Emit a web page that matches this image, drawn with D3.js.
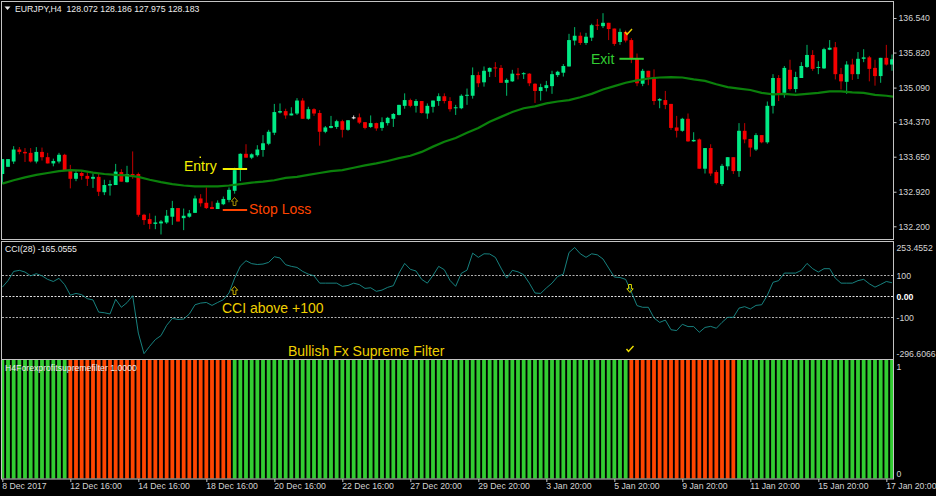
<!DOCTYPE html>
<html>
<head>
<meta charset="utf-8">
<script src="https://cdnjs.cloudflare.com/ajax/libs/d3/7.8.5/d3.min.js"></script>
<style>
html, body { margin: 0; padding: 0; background: #000; overflow: hidden; }
text { font-family: "Liberation Sans", Arial, sans-serif; }
.small { font-size: 8.7px; fill: #d4d4d4; }
.note { font-size: 14px; }
</style>
</head>
<body>
<svg id="chart" width="936" height="496"></svg>
<script>
// EURJPY H4, one entry per candle
const opens = [133.29,133.44,133.55,133.80,133.75,133.73,133.55,133.75,133.64,133.51,133.55,133.69,133.37,133.19,133.31,133.25,133.19,133.23,132.91,133.05,133.06,133.33,133.12,133.29,133.29,132.44,132.35,132.25,132.26,132.28,132.40,132.58,132.37,132.40,132.48,132.78,132.69,132.60,132.56,132.66,132.75,132.94,133.39,133.71,133.63,133.68,133.79,133.92,134.15,134.57,134.60,134.51,134.55,134.82,134.44,134.64,134.56,134.17,134.25,134.27,134.39,134.21,134.47,134.47,134.37,134.27,134.35,134.25,134.35,134.44,134.52,134.71,134.83,134.71,134.81,134.55,134.69,134.81,134.91,134.81,134.66,134.66,134.92,134.92,135.35,135.20,135.42,135.51,135.50,135.19,135.22,135.38,135.37,135.38,135.17,135.02,135.08,135.12,135.35,135.40,135.53,136.07,136.17,136.02,136.13,136.40,136.37,136.44,136.32,136.04,136.25,136.08,135.69,135.17,135.44,135.30,134.82,134.83,134.75,134.26,134.19,134.44,133.97,134.01,133.40,133.83,133.33,133.08,133.45,133.64,133.35,134.19,134.02,133.80,134.10,133.95,134.71,135.29,134.98,135.46,135.06,135.29,135.52,135.77,135.51,135.49,135.88,135.93,135.37,135.21,135.57,135.37,135.69,135.72,135.50,135.33,135.71,135.57];
const highs = [133.60,133.60,133.87,133.85,133.83,133.83,133.85,133.84,133.73,133.61,133.73,133.71,133.48,133.37,133.37,133.35,133.30,133.29,133.17,133.16,133.50,133.39,133.46,133.76,133.32,132.46,132.47,132.42,132.33,132.54,132.73,132.58,132.57,132.54,132.84,132.87,133.01,132.72,132.74,132.82,133.01,133.42,133.72,133.91,133.72,133.89,134.10,134.21,134.75,134.76,134.65,134.68,134.87,134.87,134.69,134.66,134.62,134.29,134.50,134.42,134.42,134.41,134.51,134.55,134.37,134.51,134.36,134.47,134.48,134.56,134.73,134.97,134.86,134.85,134.81,134.76,134.82,134.97,134.97,134.89,134.73,134.95,135.07,135.51,135.42,135.53,135.51,135.62,135.56,135.28,135.46,135.50,135.41,135.39,135.18,135.17,135.23,135.44,135.44,135.58,136.21,136.35,136.24,136.23,136.42,136.52,136.64,136.44,136.32,136.32,136.28,136.12,135.80,135.48,135.44,135.47,134.87,135.02,134.75,134.50,134.46,134.55,134.16,134.03,133.83,133.91,133.37,133.50,133.64,133.64,134.35,134.35,134.02,134.14,134.10,134.80,135.37,135.35,135.54,135.67,135.42,135.62,135.98,135.87,135.64,135.92,136.08,136.04,135.50,135.64,135.69,135.83,135.89,135.75,135.67,135.71,135.98,135.78];
const lows = [133.08,133.44,133.50,133.70,133.54,133.53,133.51,133.57,133.51,133.45,133.51,133.37,132.99,133.14,133.17,133.04,133.00,132.83,132.85,132.84,133.06,133.13,133.11,133.19,132.40,132.23,132.14,132.14,132.03,132.25,132.23,132.30,132.12,132.38,132.48,132.61,132.56,132.56,132.56,132.64,132.70,132.88,133.14,133.63,133.60,133.65,133.65,133.89,134.10,134.55,134.44,134.51,134.52,134.44,134.42,134.50,133.88,134.14,134.24,134.23,134.05,134.19,134.43,134.33,134.22,134.25,134.19,134.19,134.30,134.27,134.51,134.65,134.68,134.57,134.55,134.44,134.57,134.71,134.76,134.59,134.52,134.64,134.73,134.86,135.10,135.11,135.31,135.31,135.19,134.92,135.21,135.26,135.27,135.12,134.77,134.82,135.01,134.96,135.31,135.32,135.53,135.97,135.98,135.98,136.06,136.29,136.33,136.08,135.96,135.98,136.03,135.60,135.12,135.12,135.14,134.73,134.66,134.64,134.21,134.05,134.17,133.96,133.96,133.40,133.30,133.25,133.07,133.04,133.37,133.29,133.23,133.93,133.65,133.77,133.93,133.92,134.55,134.81,134.88,135.03,134.99,135.29,135.50,135.44,135.37,135.48,135.87,135.26,135.05,134.96,135.25,135.27,135.62,135.22,135.13,135.19,135.55,135.44];
const closes = [133.60,133.60,133.80,133.75,133.72,133.55,133.75,133.64,133.51,133.56,133.69,133.37,133.19,133.31,133.25,133.19,133.23,132.92,133.06,133.08,133.34,133.13,133.29,133.26,132.44,132.33,132.25,132.28,132.30,132.42,132.58,132.30,132.42,132.47,132.78,132.68,132.58,132.56,132.69,132.77,132.96,133.37,133.71,133.63,133.70,133.80,133.93,134.17,134.58,134.60,134.51,134.55,134.82,134.44,134.64,134.55,134.17,134.26,134.29,134.39,134.21,134.41,134.47,134.36,134.25,134.35,134.24,134.37,134.46,134.54,134.73,134.83,134.71,134.81,134.56,134.71,134.82,134.91,134.81,134.64,134.68,134.92,134.94,135.35,135.18,135.44,135.50,135.49,135.19,135.25,135.38,135.35,135.39,135.18,135.02,135.10,135.14,135.37,135.42,135.54,136.08,136.17,136.02,136.15,136.39,136.39,136.44,136.31,136.00,136.25,136.07,135.70,135.18,135.44,135.30,134.81,134.85,134.73,134.25,134.19,134.44,133.97,134.00,133.40,133.83,133.30,133.10,133.46,133.64,133.35,134.19,134.01,133.84,134.10,133.95,134.71,135.29,134.95,135.50,135.06,135.31,135.54,135.77,135.48,135.52,135.89,135.92,135.37,135.22,135.57,135.37,135.69,135.72,135.48,135.33,135.71,135.57,135.68];

// moving average, read at every second candle
const maValues = [133.09,133.16,133.22,133.27,133.31,133.35,133.37,133.36,133.32,133.29,133.27,133.26,133.23,133.17,133.12,133.08,133.05,133.03,133.03,133.03,133.05,133.08,133.11,133.13,133.16,133.21,133.23,133.27,133.31,133.35,133.37,133.42,133.47,133.51,133.56,133.62,133.67,133.75,133.86,133.96,134.04,134.15,134.25,134.38,134.48,134.58,134.66,134.70,134.76,134.80,134.83,134.89,134.96,135.05,135.12,135.19,135.24,135.28,135.30,135.31,135.30,135.26,135.23,135.16,135.10,135.07,135.04,134.98,134.95,134.96,134.94,134.96,134.98,135.01,135.01,134.99,134.98,134.94,134.92,134.89];

const cciValues = [44,75,119,124,116,98,108,98,81,71,86,56,6,14,8,-11,-17,-75,-78,-84,-14,-52,-30,3,-175,-273,-238,-206,-187,-138,-105,-110,-108,-84,-40,-32,-29,-43,-29,-16,16,87,144,170,156,152,154,162,189,183,151,143,138,119,106,98,63,63,63,63,48,52,63,56,38,41,24,30,43,51,111,157,129,121,81,63,100,143,127,76,48,110,125,206,186,203,202,186,135,87,124,117,103,63,16,14,40,63,95,106,209,233,203,186,203,198,178,135,92,90,81,21,-44,-52,-52,-103,-124,-113,-159,-163,-133,-144,-144,-171,-148,-143,-152,-124,-100,-100,-56,-49,-60,-43,-40,5,67,75,111,111,111,124,157,132,116,132,132,87,63,63,63,75,81,60,44,57,71,65];

// filter state runs: [first candle, last candle]
const filterRedRuns = [[12, 40], [111, 129]];

const priceTicks = [136.54, 135.82, 135.09, 134.37, 133.65, 132.92, 132.2];
const cciLevels = [100, 0, -100];
const cciRange = [253.4552, -296.6066];
const dateLabels = ['8 Dec 2017','12 Dec 16:00','14 Dec 16:00','18 Dec 16:00','20 Dec 16:00','22 Dec 16:00','27 Dec 20:00','29 Dec 20:00','3 Jan 20:00','5 Jan 20:00','9 Jan 20:00','11 Jan 20:00','15 Jan 20:00','17 Jan 20:00'];
const dateEvery = 12; // candles between date labels

const n = opens.length;
const svg = d3.select('#chart');
const plotRight = 893;

const x = d3.scaleLinear().domain([0, 157]).range([2.333, 2.333 + 157 * 5.6667]);
const y = d3.scaleLinear().domain([132.2, 136.54]).range([226.3, 18]);
const yCci = d3.scaleLinear().domain([cciRange[1], cciRange[0]]).range([358.6, 243.2]);
const yFilter = d3.scaleLinear().domain([0, 1]).range([478.5, 360]);

const defs = svg.append('defs');
defs.append('clipPath').attr('id', 'clipMain').append('rect').attr('x', 2).attr('y', 2).attr('width', plotRight - 2).attr('height', 237);
defs.append('clipPath').attr('id', 'clipCci').append('rect').attr('x', 2).attr('y', 242).attr('width', plotRight - 2).attr('height', 117);
defs.append('clipPath').attr('id', 'clipFilter').append('rect').attr('x', 2).attr('y', 360).attr('width', plotRight - 2).attr('height', 119);

// candles
const candles = svg.append('g').attr('clip-path', 'url(#clipMain)');
const candleColor = i => closes[i] === opens[i] ? '#ffffff' : (closes[i] > opens[i] ? '#00ea85' : '#f50000');
const idx = d3.range(n);
candles.selectAll('line.wick').data(idx).enter().append('line')
    .attr('x1', i => x(i)).attr('x2', i => x(i))
    .attr('y1', i => y(highs[i])).attr('y2', i => y(lows[i]))
    .attr('stroke', candleColor).attr('stroke-width', 0.8);
candles.selectAll('rect.body').data(idx).enter().append('rect')
    .attr('x', i => x(i) - 1.9).attr('width', 3.8)
    .attr('y', i => y(Math.max(opens[i], closes[i])))
    .attr('height', i => Math.max(1, Math.abs(y(opens[i]) - y(closes[i]))))
    .attr('fill', candleColor);

// moving average
const maLine = d3.line().x((d, i) => x(i * 2)).y(d => y(d));
candles.append('path').datum(maValues).attr('d', maLine)
    .attr('fill', 'none').attr('stroke', '#0b800b').attr('stroke-width', 2.2);

// CCI panel
const cciG = svg.append('g').attr('clip-path', 'url(#clipCci)');
cciG.selectAll('line.level').data(cciLevels).enter().append('line')
    .attr('x1', 2).attr('x2', plotRight)
    .attr('y1', d => Math.round(yCci(d)) + 0.5).attr('y2', d => Math.round(yCci(d)) + 0.5)
    .attr('stroke', d => d === 0 ? '#e0e0e0' : '#b0b0b0').attr('stroke-width', 1)
    .attr('stroke-dasharray', '2,1.5');
const cciLine = d3.line().x((d, i) => x(i)).y(d => yCci(d));
cciG.append('path').datum(cciValues).attr('d', cciLine)
    .attr('fill', 'none').attr('stroke', '#1a8f8c').attr('stroke-width', 0.9);

// filter histogram
const isRed = i => filterRedRuns.some(r => i >= r[0] && i <= r[1]);
svg.append('g').attr('clip-path', 'url(#clipFilter)')
    .selectAll('rect').data(idx).enter().append('rect')
    .attr('x', i => x(i) - 1.9).attr('width', 3.8)
    .attr('y', yFilter(1)).attr('height', yFilter(0) - yFilter(1))
    .attr('fill', i => isRed(i) ? '#ff4500' : '#32cd32');

// frames
const frame = '#c4c4c4';
[[1.5, 1.5, plotRight + 0.5, 239.5], [1.5, 241.5, plotRight + 0.5, 359.5], [1.5, 359.5, plotRight + 0.5, 479]].forEach(r => {
    svg.append('rect').attr('x', r[0]).attr('y', r[1]).attr('width', r[2] - r[0]).attr('height', r[3] - r[1])
        .attr('fill', 'none').attr('stroke', frame).attr('stroke-width', 1);
});

// axes
const priceAxis = d3.axisRight(y).tickValues(priceTicks).tickFormat(d3.format('.3f')).tickSize(3).tickPadding(2);
const gPrice = svg.append('g').attr('transform', `translate(${plotRight + 0.5},0)`).call(priceAxis);
const cciFmt = d => d === 0 ? '0.00' : String(d);
const gCci = svg.append('g').attr('transform', `translate(${plotRight + 0.5},0)`)
    .call(d3.axisRight(yCci).tickValues(cciLevels).tickFormat(cciFmt).tickSize(0).tickPadding(3));
const gDates = svg.append('g').attr('transform', 'translate(0,479)')
    .call(d3.axisBottom(x).tickValues(dateLabels.map((d, i) => i * dateEvery)).tickSize(3)
        .tickFormat((d, i) => dateLabels[i]).tickPadding(1));
[gPrice, gCci, gDates].forEach(g => {
    g.select('.domain').remove();
    g.selectAll('.tick line').attr('stroke', frame);
    g.selectAll('text').attr('class', 'small').attr('font-family', null).attr('font-size', null);
});
gDates.selectAll('text').attr('text-anchor', 'start').attr('dx', '-0.6').attr('dy', '0.7em');
gCci.selectAll('text').filter(d => d === 0).style('fill', '#fff').style('font-weight', 'bold');

// labels without tick marks on the scales
const sideLabels = [['253.4552', 248], ['-296.6066', 354], ['1', 367], ['0', 474]];
svg.selectAll('text.side').data(sideLabels).enter().append('text')
    .attr('class', 'small side').attr('x', 896.5).attr('y', d => d[1]).attr('dy', '0.35em').text(d => d[0]);

// panel headers
svg.append('path').attr('d', 'M4.5 6.5 H10.5 L7.5 10 Z').attr('fill', '#e8e8e8');
const headers = [['EURJPY,H4  128.072 128.186 127.975 128.183', 15, 9], ['CCI(28) -165.0555', 5, 249], ['H4Forexprofitsupremefilter 1.0000', 5, 368]];
svg.selectAll('text.header').data(headers).enter().append('text')
    .attr('class', 'small header').attr('x', d => d[1]).attr('y', d => d[2]).attr('dy', '0.35em')
    .style('white-space', 'pre').style('fill', '#ececec').text(d => d[0]);

// annotations
const notes = [
    ['Entry', 184, 166, '#f5f000'],
    ['Stop Loss', 249, 209, '#ff4500'],
    ['Exit', 591, 59, '#32cd32'],
    ['CCI above +100', 222, 308, '#f0d000'],
    ['Bullish Fx Supreme Filter', 288, 351, '#f0d000']
];
svg.selectAll('text.note').data(notes).enter().append('text')
    .attr('class', 'note').attr('x', d => d[1]).attr('y', d => d[2]).attr('dy', '0.35em')
    .attr('fill', d => d[3]).text(d => d[0]);

// level segments: [from candle, to candle, price, colour]
const segments = [[38.9, 43.2, 133.394, '#f5f000'], [38.9, 43.2, 132.54, '#ff4500'], [108.9, 113.2, 135.69, '#32cd32']];
svg.selectAll('line.seg').data(segments).enter().append('line')
    .attr('x1', d => x(d[0])).attr('x2', d => x(d[1])).attr('y1', d => y(d[2])).attr('y2', d => y(d[2]))
    .attr('stroke', d => d[3]).attr('stroke-width', 2);
svg.append('rect').attr('x', 199.5).attr('y', 156.5).attr('width', 1.5).attr('height', 1.5).attr('fill', '#f5f000');

// hollow arrows and ticks
const upArrow = 'M0 -4.5 L3.2 -0.8 H1.4 V3.5 H-1.4 V-0.8 H-3.2 Z';
const arrows = [[234.5, 202, 1, '#a89000'], [234.5, 291, 1, '#c8b000'], [630, 288, -1, '#e0e000']];
svg.selectAll('path.arrow').data(arrows).enter().append('path')
    .attr('d', upArrow).attr('fill', 'none').attr('stroke', d => d[3]).attr('stroke-width', 1)
    .attr('transform', d => `translate(${d[0]},${d[1]}) scale(1,${d[2]})`);
const tickMarks = [[628, 32, '#e8d000'], [629.5, 349, '#f0e000']];
svg.selectAll('path.check').data(tickMarks).enter().append('path')
    .attr('d', 'M-3 0 L-1 2.5 L4 -3').attr('fill', 'none').attr('stroke', d => d[2]).attr('stroke-width', 1.4)
    .attr('transform', d => `translate(${d[0]},${d[1]})`);
</script>
</body>
</html>
